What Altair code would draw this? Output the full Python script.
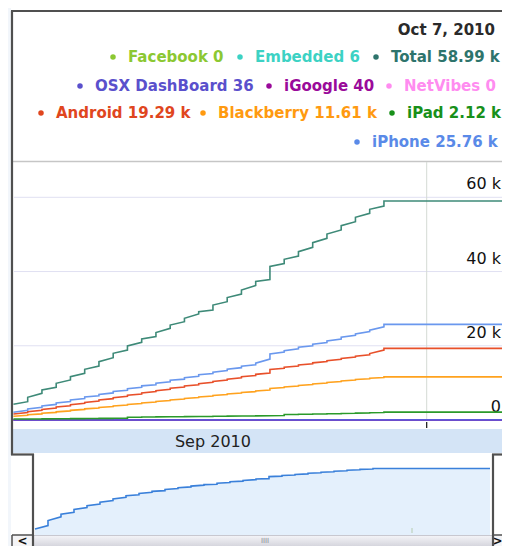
import altair as alt
import pandas as pd

# ---------------- data (values in thousands unless noted) ----------------
SERIES = ["Facebook", "Embedded", "Total", "OSX DashBoard", "iGoogle",
          "NetVibes", "Android", "Blackberry", "iPad", "iPhone"]
LEGEND_COLORS = ["#8cc832", "#3cd2c4", "#2e746c", "#5a50cc", "#9a0a9a",
                 "#ff8cf0", "#e0461e", "#ff9a10", "#18901a", "#5a8ae8"]
LINE_COLORS = ["#99cc33", "#33cccc", "#3e8a78", "#5a5ad8", "#990099",
               "#ff88ee", "#e8502a", "#ffa21e", "#2a9a2a", "#6a98ee"]
LATEST = [0, 6, 58990, 36, 40, 0, 19290, 11610, 2120, 25760]   # raw counts
LATEST_DATE = "2010-10-07"
FIRST_DAY = 2        # Sep 2
LAST_DAY = 28        # Sep 28 (flat afterwards)

# value just after each midnight, Sep 2 .. Sep 28
TOTAL_START = [4.23, 6.12, 8.08, 9.89, 11.66, 13.66, 15.71, 17.97, 19.94, 21.82,
               23.57, 25.59, 27.40, 29.18, 30.98, 33.00, 35.02, 37.31, 41.35, 43.29,
               45.34, 47.77, 50.11, 52.34, 54.61, 56.76, 58.99]
# value just before the next midnight, end of Sep 2 .. end of Sep 27
TOTAL_END = [4.93, 7.19, 8.81, 10.78, 12.58, 14.55, 16.78, 18.86, 20.93, 22.49,
             24.70, 26.48, 28.56, 29.63, 31.87, 33.94, 36.23, 37.85, 42.16, 44.18,
             46.53, 48.95, 51.19, 53.42, 55.68, 57.65]

IPHONE_START = [2.1, 3.0, 3.8, 4.6, 5.4, 6.2, 6.9, 7.7, 8.4, 9.2,
                9.9, 10.7, 11.4, 12.2, 12.9, 13.7, 14.5, 15.3, 17.8, 18.7,
                19.6, 20.4, 21.3, 22.3, 23.2, 24.2, 25.76]
IPHONE_END = [2.6, 3.4, 4.2, 5.0, 5.8, 6.5, 7.3, 8.0, 8.8, 9.5,
              10.3, 11.0, 11.8, 12.5, 13.3, 14.1, 14.9, 16.4, 18.3, 19.2,
              20.0, 20.9, 21.8, 22.8, 23.8, 25.1]

ANDROID_START = [1.6, 2.25, 2.85, 3.5, 4.1, 4.75, 5.4, 6.0, 6.65, 7.3,
                 7.9, 8.55, 9.15, 9.8, 10.4, 11.0, 11.65, 12.3, 13.6, 14.2,
                 14.8, 15.4, 16.0, 16.6, 17.2, 17.9, 19.29]
ANDROID_END = [2.0, 2.6, 3.2, 3.85, 4.5, 5.1, 5.75, 6.4, 7.0, 7.65,
               8.25, 8.9, 9.5, 10.15, 10.75, 11.4, 12.0, 12.65, 13.95, 14.55,
               15.15, 15.75, 16.35, 16.95, 17.55, 18.85]

BLACKBERRY_START = [1.0, 1.4, 1.8, 2.2, 2.6, 3.0, 3.4, 3.8, 4.2, 4.6,
                    5.0, 5.4, 5.8, 6.2, 6.6, 7.0, 7.4, 7.8, 8.5, 8.9,
                    9.3, 9.7, 10.1, 10.5, 10.9, 11.25, 11.61]
BLACKBERRY_END = [1.25, 1.65, 2.05, 2.45, 2.85, 3.25, 3.65, 4.05, 4.45, 4.85,
                  5.25, 5.65, 6.05, 6.45, 6.85, 7.25, 7.65, 8.05, 8.75, 9.15,
                  9.55, 9.95, 10.35, 10.75, 11.1, 11.45]

IPAD_START = [0.25, 0.28, 0.3, 0.33, 0.36, 0.4, 0.43, 0.46, 0.75, 0.8,
              0.84, 0.88, 0.92, 0.96, 1.0, 1.04, 1.08, 1.12, 1.16, 1.5,
              1.55, 1.6, 1.68, 1.75, 1.85, 1.95, 2.12]
IPAD_END = [0.27, 0.29, 0.32, 0.35, 0.38, 0.42, 0.45, 0.48, 0.78, 0.82,
            0.86, 0.9, 0.94, 0.98, 1.02, 1.06, 1.1, 1.14, 1.2, 1.52,
            1.58, 1.64, 1.72, 1.8, 1.9, 2.0]

SMALL_SERIES_START = {"Facebook": 0, "Embedded": 0, "NetVibes": 0, "iGoogle": 0.0, "OSX DashBoard": 0.0}

Y_TICKS = [0, 20000, 40000, 60000]
Y_TICK_LABELS = ["0", "20 k", "40 k", "60 k"]
OVERVIEW_FLOOR = 3000
MONTH_LABEL = "Sep 2010"
LEGEND_ROWS = [["Facebook", "Embedded", "Total"],
               ["OSX DashBoard", "iGoogle", "NetVibes"],
               ["Android", "Blackberry", "iPad"],
               ["iPhone"]]

# ---------------- build tables ----------------
def stepped(name, starts, ends):
    rows = []
    for i, d in enumerate(range(FIRST_DAY, LAST_DAY + 1)):
        t0 = pd.Timestamp(2010, 9, d)
        rows.append((name, t0, starts[i] * 1000))
        if i < len(ends):
            rows.append((name, t0 + pd.Timedelta(hours=23, minutes=59), ends[i] * 1000))
    rows.append((name, pd.Timestamp(LATEST_DATE), starts[-1] * 1000))
    return rows

rows = []
for nm, st in SMALL_SERIES_START.items():
    last = LATEST[SERIES.index(nm)]
    rows.append((nm, pd.Timestamp(2010, 9, FIRST_DAY), st))
    rows.append((nm, pd.Timestamp(2010, 9, LAST_DAY), last))
    rows.append((nm, pd.Timestamp(LATEST_DATE), last))
rows += stepped("iPad", IPAD_START, IPAD_END)
rows += stepped("Blackberry", BLACKBERRY_START, BLACKBERRY_END)
rows += stepped("Android", ANDROID_START, ANDROID_END)
rows += stepped("iPhone", IPHONE_START, IPHONE_END)
rows += stepped("Total", TOTAL_START, TOTAL_END)
lines_df = pd.DataFrame(rows, columns=["series", "date", "value"])
lines_df["order"] = range(len(lines_df))

overview_df = pd.DataFrame(stepped("Total", TOTAL_START, TOTAL_END),
                           columns=["series", "date", "value"])
overview_df["floor"] = OVERVIEW_FLOOR
overview_df["order"] = range(len(overview_df))


def fmt(v):
    return f"{v / 1000:.2f} k" if v >= 1000 else f"{v:g}"

# ---------------- layout (page pixels) ----------------
OFF = 8
W, H = 510 - 2 * OFF, 554 - 2 * OFF
FONT = "DejaVu Sans"
legend_text_x = {"Facebook": 128, "Embedded": 255, "Total": 391,
                 "OSX DashBoard": 95, "iGoogle": 284, "NetVibes": 404,
                 "Android": 56, "Blackberry": 218, "iPad": 407, "iPhone": 372}
legend_row_y = [57, 86, 113, 142]

leg = []
for r, names in enumerate(LEGEND_ROWS):
    for nm in names:
        i = SERIES.index(nm)
        leg.append({"label": f"{nm} {fmt(LATEST[i])}", "color": LEGEND_COLORS[i],
                    "tx": legend_text_x[nm] - OFF, "dotx": legend_text_x[nm] - 15 - OFF,
                    "ty": legend_row_y[r] - OFF})
legend_df = pd.DataFrame(leg)

one = pd.DataFrame({"k": [0]})


def P(v):
    return v - OFF


def rect(x1, y1, x2, y2, **kw):
    return alt.Chart(one).mark_rect(**kw).encode(
        x=alt.value(P(x1)), x2=alt.value(P(x2)), y=alt.value(P(y1)), y2=alt.value(P(y2)))


def rule(x1, y1, x2, y2, **kw):
    return alt.Chart(one).mark_rule(**kw).encode(
        x=alt.value(P(x1)), x2=alt.value(P(x2)), y=alt.value(P(y1)), y2=alt.value(P(y2)))


def text(x, y, s, **kw):
    return alt.Chart(one).mark_text(text=s, font=FONT, **kw).encode(
        x=alt.value(P(x)), y=alt.value(P(y)))

# ---------------- scales ----------------
x_main = alt.Scale(domain=[alt.DateTime(year=2010, month=9, date=1),
                           alt.DateTime(year=2010, month=10, date=7)],
                   range=[P(-0.8), P(512.2)])
y_main = alt.Scale(domain=[0, 60000], range=[P(420), P(197.3)], nice=False, zero=False)
x_over = alt.Scale(domain=[alt.DateTime(year=2010, month=9, date=2),
                           alt.DateTime(year=2010, month=10, date=7)],
                   range=[P(35), P(490)])
y_over = alt.Scale(type="log", domain=[3000, 70000], range=[P(537), P(464.5)], nice=False)

SCROLL_TOP = 535
SCROLL_BOT = 546

layers = []
# left page tint
layers.append(rect(8, 0, 11, 554, color="#f2f6fb"))
# legend/plot separator
layers.append(rule(13, 161.5, 520, 161.5, color="#c6c6c6", strokeWidth=1.5))

# horizontal gridlines
grid_df = pd.DataFrame({"v": Y_TICKS, "lab": Y_TICK_LABELS})
layers.append(alt.Chart(grid_df[grid_df.v > 0]).mark_rule(color="#e0e0f2", strokeWidth=1).encode(
    y=alt.Y("v:Q", scale=y_main, axis=None), x=alt.value(P(14)), x2=alt.value(W + 5)))
# vertical gridline & tick at month boundary
mb = pd.DataFrame({"d": [pd.Timestamp(2010, 10, 1)]})
layers.append(alt.Chart(mb).mark_rule(color="#d4dad4", strokeWidth=1).encode(
    x=alt.X("d:T", scale=x_main, axis=None), y=alt.value(P(162)), y2=alt.value(P(421))))
layers.append(alt.Chart(mb).mark_rule(color="#111111", strokeWidth=1.2).encode(
    x=alt.X("d:T", scale=x_main, axis=None), y=alt.value(P(422)), y2=alt.value(P(428))))

# y labels
layers.append(alt.Chart(grid_df).mark_text(font=FONT, fontSize=16, align="right",
                                           baseline="middle", dy=-13, color="#111111").encode(
    y=alt.Y("v:Q", scale=y_main, axis=None), x=alt.value(P(501)), text="lab:N"))

# series lines
layers.append(alt.Chart(lines_df).mark_line(strokeWidth=1.6, interpolate="linear").encode(
    x=alt.X("date:T", scale=x_main, axis=None),
    y=alt.Y("value:Q", scale=y_main, axis=None),
    color=alt.Color("series:N", scale=alt.Scale(domain=SERIES, range=LINE_COLORS), legend=None),
    detail="series:N",
    order="order:Q",
))

# date band
layers.append(rect(13, 429, 520, 453, color="#d4e4f6"))
mlab = pd.DataFrame({"d": [pd.Timestamp(2010, 9, 16)], "t": [MONTH_LABEL]})
layers.append(alt.Chart(mlab).mark_text(font=FONT, fontSize=16, color="#222222",
                                        baseline="middle").encode(
    x=alt.X("d:T", scale=x_main, axis=None), y=alt.value(P(441.5)), text="t:N"))

# overview: fill and outline
layers.append(alt.Chart(overview_df).mark_area(color="#e4f0fc", opacity=1,
                                              interpolate="linear").encode(
    x=alt.X("date:T", scale=x_over, axis=None),
    y=alt.Y("value:Q", scale=y_over, axis=None, stack=None),
    y2=alt.Y2("floor:Q"),
))
layers.append(alt.Chart(overview_df).mark_line(color="#3a80da", strokeWidth=1.6,
                                              interpolate="linear").encode(
    x=alt.X("date:T", scale=x_over, axis=None),
    y=alt.Y("value:Q", scale=y_over, axis=None),
    order="order:Q",
))
layers.append(alt.Chart(mb).mark_rule(color="#b6ccb0", strokeWidth=1).encode(
    x=alt.X("d:T", scale=x_over, axis=None), y=alt.value(P(528)), y2=alt.value(P(533))))

# scrollbar (compressed so it stays inside the page)
layers.append(rect(33, SCROLL_TOP, 493, SCROLL_BOT,
                   color={"gradient": "linear", "x1": 0, "y1": 0, "x2": 0, "y2": 1,
                          "stops": [{"offset": 0, "color": "#f6f6f9"},
                                    {"offset": 1, "color": "#d6d6de"}]}))
layers.append(rule(33, SCROLL_TOP + 0.5, 493, SCROLL_TOP + 0.5, color="#c8c8d0", strokeWidth=1))
layers.append(text(265, 540.5, "IIII", fontSize=7, color="#8a8a94", baseline="middle"))
layers.append(rect(12, SCROLL_TOP, 33, SCROLL_BOT, color="#f4f4f6"))
layers.append(rect(493, SCROLL_TOP, 520, SCROLL_BOT, color="#f4f4f6"))
layers.append(text(22.5, 540.5, "<", fontSize=12, fontWeight="bold", color="#111111", baseline="middle"))
layers.append(text(497.5, 540.5, ">", fontSize=12, fontWeight="bold", color="#111111", baseline="middle"))

# frame
bc = "#505050"
sw = 2.2
layers.append(rule(12, 11, 12, 455, color=bc, strokeWidth=sw))
layers.append(rule(11, 11, 520, 11, color=bc, strokeWidth=sw))
layers.append(rule(11, 454.5, 34, 454.5, color=bc, strokeWidth=sw))
layers.append(rule(33, 454, 33, 554, color=bc, strokeWidth=sw))
layers.append(rule(492, 454.5, 520, 454.5, color=bc, strokeWidth=sw))
layers.append(rule(493, 454, 493, 554, color=bc, strokeWidth=sw))
layers.append(rule(12, SCROLL_TOP, 33, SCROLL_TOP, color=bc, strokeWidth=1.5))
layers.append(rule(12, SCROLL_TOP, 12, 554, color=bc, strokeWidth=1.5))
layers.append(rule(493, SCROLL_TOP, 520, SCROLL_TOP, color=bc, strokeWidth=1.5))

# legend header
layers.append(text(495, 30, pd.Timestamp(LATEST_DATE).strftime("%b %-d, %Y"),
                   fontSize=15, fontWeight="bold", align="right", baseline="middle", color="#2a2a2a"))
layers.append(alt.Chart(legend_df).mark_circle(size=30, opacity=1).encode(
    x=alt.X("dotx:Q", scale=None), y=alt.Y("ty:Q", scale=None),
    color=alt.Color("color:N", scale=None)))
layers.append(alt.Chart(legend_df).mark_text(font=FONT, fontSize=15, fontWeight="bold",
                                             align="left", baseline="middle").encode(
    x=alt.X("tx:Q", scale=None), y=alt.Y("ty:Q", scale=None),
    color=alt.Color("color:N", scale=None), text="label:N"))

chart = alt.layer(*layers).resolve_scale(
    x="independent", y="independent", color="independent"
).properties(
    width=W, height=H, padding=0, autosize=alt.AutoSizeParams(type="none")
).configure_view(stroke=None)

chart.save("out.html", embed_options={"renderer": "svg", "actions": False})
